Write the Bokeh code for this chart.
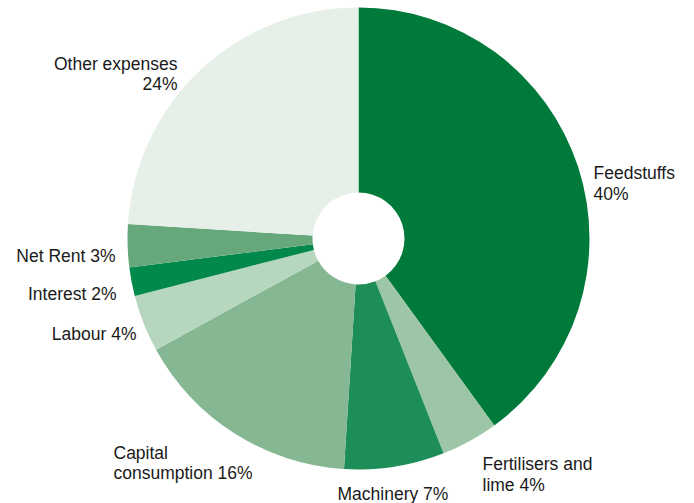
import math
from bokeh.plotting import figure
from bokeh.models import Range1d, ColumnDataSource
from bokeh.core.properties import value
from bokeh.embed import file_html
from bokeh.resources import INLINE

# ---- data ----
categories = ["Feedstuffs", "Fertilisers and lime", "Machinery", "Capital consumption",
              "Labour", "Interest", "Net Rent", "Other expenses"]
shares = [40, 4, 7, 16, 4, 2, 3, 24]
colors = ["#007A3B", "#9DC6A7", "#1E8E58", "#84B792", "#B7D6BE", "#00894A", "#66A87C", "#E6F0E9"]

# ---- figure: data units == screen pixels (y flipped) ----
W, H = 694, 503
p = figure(width=W, height=H, output_backend="svg", toolbar_location=None,
           x_range=Range1d(0, W), y_range=Range1d(0, H), min_border=0)
p.axis.visible = False
p.grid.visible = False
p.outline_line_color = None
p.background_fill_color = "white"
p.border_fill_color = "white"

def Y(sy):
    return H - sy

cx, cy = 358, Y(238)
r_out, r_in = 231, 46

total = float(sum(shares))
starts, ends = [], []
cum = 0.0
for s in shares:
    a0 = math.pi / 2 - 2 * math.pi * cum / total
    cum += s
    a1 = math.pi / 2 - 2 * math.pi * cum / total
    starts.append(a0)
    ends.append(a1)

src = ColumnDataSource(dict(x=[cx] * len(shares), y=[cy] * len(shares),
                            start=starts, end=ends, color=colors, cat=categories))
p.annular_wedge(x="x", y="y", inner_radius=r_in, outer_radius=r_out,
                start_angle="start", end_angle="end", direction="clock",
                fill_color="color", line_color=None, source=src)

# ---- labels ----
label_lines = [
    ("Feedstuffs", 593, 172, "left"),
    ("40%", 593, 193, "left"),
    ("Fertilisers and", 482, 463, "left"),
    ("lime 4%", 482, 484, "left"),
    ("Machinery 7%", 337, 493, "left"),
    ("Capital", 113, 452, "left"),
    ("consumption 16%", 113, 472, "left"),
    ("Labour 4%", 136, 333, "right"),
    ("Interest 2%", 116, 293, "right"),
    ("Net Rent 3%", 115, 255, "right"),
    ("Other expenses", 177, 63, "right"),
    ("24%", 177, 83, "right"),
]
for txt, sx, sy, al in label_lines:
    p.text(x=[sx], y=[Y(sy)], text=[txt], text_align=al, text_baseline="alphabetic",
           text_font=value("Liberation Sans"), text_font_size="17.5px", text_color="#1a1a1a")

open("out.html", "w").write(file_html(p, INLINE))
